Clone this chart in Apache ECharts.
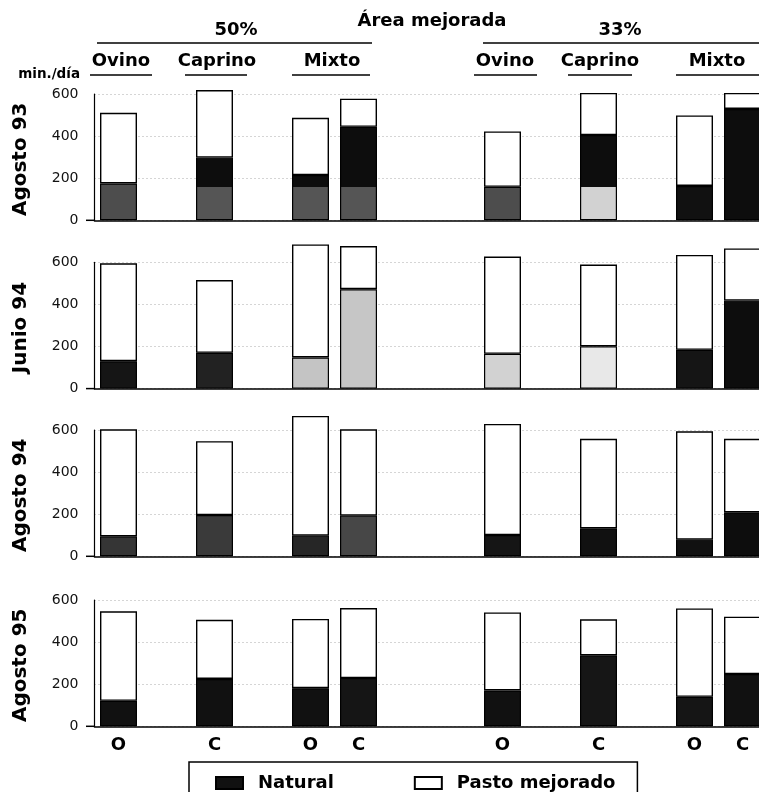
<!DOCTYPE html>
<html>
<head>
<meta charset="utf-8">
<script src="https://cdn.jsdelivr.net/npm/echarts@6/dist/echarts.min.js"></script>
<style>
html,body{margin:0;padding:0;background:#fff;overflow:hidden;}
#chart{width:768px;height:792px;}
</style>
</head>
<body>
<div id="chart"></div>
<script>
// ---- data ----
const rowLabels = ['Agosto 93', 'Junio 94', 'Agosto 94', 'Agosto 95'];
const slotLabels = ['O', '', 'C', '', 'O', 'C', '', '', 'O', '', 'C', '', 'O', 'C'];
const barSlots = [0, 2, 4, 5, 8, 10, 12, 13];
const yTicks = [0, 200, 400, 600];
// bars: Ovino50, Caprino50, MixtoO50, MixtoC50, Ovino33, Caprino33, MixtoO33, MixtoC33
const natural93a = [175, 298, 215, 444, 159, 405, 163, 529];
const pasto93a   = [336, 321, 272, 134, 263, 200, 335, 76];
const natural94j = [130, 170, 148, 472, 165, 201, 184, 418];
const pasto94j   = [465, 346, 537, 205, 462, 388, 451, 248];
const natural94a = [95, 196, 98, 193, 101, 133, 79, 209];
const pasto94a   = [508, 351, 569, 410, 528, 425, 515, 349];
const natural95a = [121, 225, 181, 229, 170, 337, 140, 248];
const pasto95a   = [425, 281, 329, 333, 371, 171, 420, 273];
const naturalRows = [natural93a, natural94j, natural94a, natural95a];
const pastoRows = [pasto93a, pasto94j, pasto94a, pasto95a];

// ---- styles (scan shading of the natural part) ----
const shades = [
  ['#4d4d4d', ['#0d0d0d', '#555', 158], ['#0d0d0d', '#555', 158], ['#0d0d0d', '#555', 158], '#4d4d4d', ['#0d0d0d', '#d2d2d2', 158], '#111', '#0d0d0d'],
  ['#151515', '#222', '#c4c4c4', '#c6c6c6', '#d2d2d2', '#e8e8e8', '#151515', '#0d0d0d'],
  ['#353535', '#3a3a3a', '#262626', '#474747', '#151515', '#111', '#111', '#0d0d0d'],
  ['#111', '#111', '#111', '#151515', '#111', '#161616', '#151515', '#111']
];
const gridTops = [94, 262.3, 430, 600];
const gridH = 126.3;
const FONT = 'DejaVu Sans';

function shadeColor(s, nat) {
  if (typeof s === 'string') return s;
  const b = Math.max(0, Math.min(1, 1 - s[2] / nat));
  return {type: 'linear', x: 0, y: 0, x2: 0, y2: 1, colorStops: [
    {offset: 0, color: s[0]}, {offset: b, color: s[0]},
    {offset: b, color: s[1]}, {offset: 1, color: s[1]}]};
}

const categories = slotLabels.map((l, i) => 's' + i);
const grids = [], xAxes = [], yAxes = [], series = [];
rowLabels.forEach((name, r) => {
  grids.push({left: 94.5, width: 672, top: gridTops[r], height: gridH, containLabel: false});
  xAxes.push({
    type: 'category', gridIndex: r, data: categories,
    axisLine: {show: true, lineStyle: {color: '#000', width: 1.5}},
    axisTick: {show: false},
    axisLabel: {show: r === 3, interval: 0, margin: 10, formatter: (v, i) => slotLabels[i],
      fontFamily: FONT, fontWeight: 'bold', fontSize: 18, color: '#000'}
  });
  yAxes.push({
    type: 'value', gridIndex: r, min: yTicks[0], max: yTicks[yTicks.length - 1], interval: 200,
    axisLine: {show: true, lineStyle: {color: '#000', width: 1.2}},
    axisTick: {show: false},
    axisLabel: {margin: 16, fontFamily: FONT, fontSize: 14, color: '#111'},
    splitLine: {show: true, lineStyle: {color: '#aaa', type: [1, 3], width: 1}}
  });
  const nat = new Array(14).fill('-');
  const pas = new Array(14).fill('-');
  barSlots.forEach((s, k) => {
    nat[s] = {value: naturalRows[r][k], itemStyle: {color: shadeColor(shades[r][k], naturalRows[r][k])}};
    pas[s] = pastoRows[r][k];
  });
  series.push({
    name: 'Natural', type: 'bar', xAxisIndex: r, yAxisIndex: r, stack: 'r' + r,
    barWidth: 37, clip: false, data: nat, animation: false,
    itemStyle: {color: '#111', borderColor: '#000', borderWidth: 1.2}
  });
  series.push({
    name: 'Pasto mejorado', type: 'bar', xAxisIndex: r, yAxisIndex: r, stack: 'r' + r,
    barWidth: 37, clip: false, data: pas, animation: false,
    itemStyle: {color: '#fff', borderColor: '#000', borderWidth: 1.4}
  });
});

const txt = (text, x, y, size, extra) => Object.assign({
  type: 'text', x: x, y: y,
  style: {text: text, fontFamily: FONT, fontWeight: 'bold', fontSize: size, fill: '#000',
    textAlign: 'center', textVerticalAlign: 'middle'}
}, extra || {});
const hline = (x1, x2, y, w) => ({type: 'line', shape: {x1: x1, y1: y, x2: x2, y2: y},
  style: {stroke: '#000', lineWidth: w}});

const graphic = [
  txt('Área mejorada', 432, 21, 18),
  txt('50%', 236, 30, 18),
  txt('33%', 620, 30, 18),
  hline(97, 372, 43, 1.5),
  hline(483, 760, 43, 1.5),
  txt('Ovino', 121, 61, 18), txt('Caprino', 217, 61, 18), txt('Mixto', 332, 61, 18),
  txt('Ovino', 505, 61, 18), txt('Caprino', 600, 61, 18), txt('Mixto', 717, 61, 18),
  hline(90, 152, 75, 1.5), hline(185, 247, 75, 1.5), hline(292, 370, 75, 1.5),
  hline(474, 537, 75, 1.5), hline(568, 632, 75, 1.5), hline(676, 760, 75, 1.5),
  {type: 'text', x: 80, y: 74, style: {text: 'min./día', fontFamily: FONT, fontWeight: 'bold',
    fontSize: 13.5, fill: '#000', textAlign: 'right', textVerticalAlign: 'middle'}}
];
rowLabels.forEach((name, r) => {
  graphic.push(txt(name, 21, gridTops[r] + gridH - 61, 20, {rotation: Math.PI / 2}));
  graphic.push(hline(86, 95, gridTops[r] + gridH, 1.5));
});

const chart = echarts.init(document.getElementById('chart'), null, {renderer: 'canvas'});
chart.setOption({
  animation: false,
  backgroundColor: '#fff',
  grid: grids, xAxis: xAxes, yAxis: yAxes, series: series,
  legend: {
    data: ['Natural', 'Pasto mejorado'], selectedMode: false,
    left: 189, top: 762, padding: [12, 22, 14, 26], itemGap: 80,
    itemWidth: 27, itemHeight: 12, icon: 'rect',
    borderColor: '#000', borderWidth: 1.5,
    textStyle: {fontFamily: FONT, fontWeight: 'bold', fontSize: 18, color: '#000', padding: [0, 0, 0, 10]}
  },
  graphic: graphic
});
</script>
</body>
</html>
